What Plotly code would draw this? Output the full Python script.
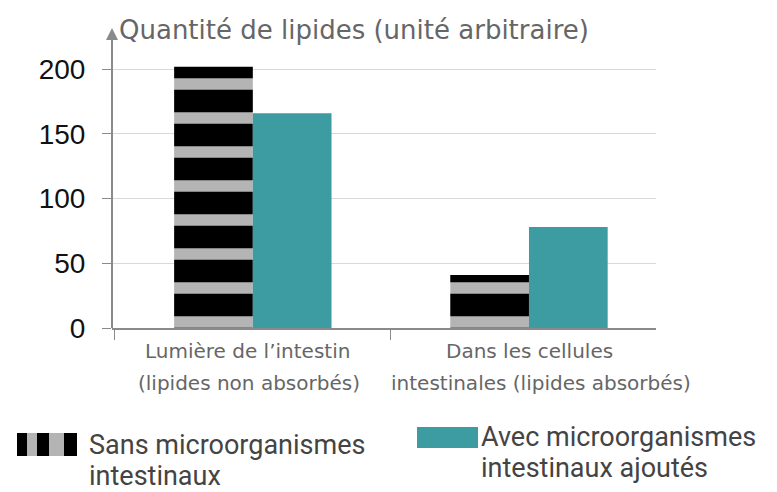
import plotly.graph_objects as go

cat_line1 = ["Lumière de l’intestin", "Dans les cellules"]
cat_line2 = ["(lipides non absorbés)", "intestinales (lipides absorbés)"]
categories = [a + " " + b for a, b in zip(cat_line1, cat_line2)]
sans_micro = [202, 41]
avec_micro = [166, 78]
y_ticks = [0, 50, 100, 150, 200]
legend_sans = ["Sans microorganismes", "intestinaux"]
legend_avec = ["Avec microorganismes", "intestinaux ajoutés"]
y_title = "Quantité de lipides (unité arbitraire)"

W, H = 777, 492
L, R, T, B = 112, 121, 33, 164
PW, PH = W - L - R, H - T - B
Y_TOP = 200 * PH / (328 - 69.3)  # keep 200 at ~69px

def px(x):
    return (x - L) / PW

def py(y):
    return 1 - (y - T) / PH

BLACK = "#000000"
GRAY = "#b4b4b4"
TEAL = "#3c9ca2"
AX = "#8a8a8a"

fig = go.Figure()
fig.add_trace(go.Bar(
    x=categories, y=sans_micro, name="Sans microorganismes intestinaux",
    marker=dict(color=BLACK, line=dict(width=0),
                pattern=dict(shape="-", fgcolor=GRAY, bgcolor=BLACK,
                             size=34, solidity=0.34, fgopacity=1)),
    showlegend=False))
fig.add_trace(go.Bar(
    x=categories, y=avec_micro, name="Avec microorganismes intestinaux ajoutés",
    marker=dict(color=TEAL, line=dict(width=0)), showlegend=False))

fig.update_layout(
    width=W, height=H, margin=dict(l=L, r=R, t=T, b=B),
    paper_bgcolor="white", plot_bgcolor="white",
    barmode="group", bargap=0.43, bargroupgap=0,
    font=dict(family="Noto Sans", color="#555555"),
)
fig.update_xaxes(
    range=[-0.51, 1.46], showline=True, linecolor=AX, linewidth=2,
    ticks="outside", tickson="boundaries", ticklen=10, tickcolor=AX, tickwidth=1,
    showticklabels=False, showgrid=False,
)
fig.update_yaxes(
    range=[0, Y_TOP], tickvals=y_ticks, showline=False,
    ticks="outside", ticklen=9, tickcolor=AX, tickwidth=1, ticklabelstandoff=11,
    tickfont=dict(family="Liberation Sans", size=28, color="#111111"),
    showgrid=True, gridcolor="#d9d9d9", gridwidth=1, zeroline=False,
)

# y axis line with arrow
fig.add_shape(type="line", xref="paper", yref="paper", x0=0, x1=0,
              y0=0, y1=py(40), line=dict(color=AX, width=2))
fig.add_annotation(xref="paper", yref="paper", x=0, y=py(28), ax=0, ay=13,
                   showarrow=True, arrowhead=2, arrowsize=1.2, arrowwidth=2,
                   arrowcolor=AX, text="")
fig.add_annotation(xref="paper", yref="paper", x=px(117), y=py(30),
                   xanchor="left", yanchor="middle", showarrow=False,
                   text=y_title, font=dict(family="DejaVu Sans", size=26, color="#666666"))

# category labels (two lines each)
shifts1 = [-5, 1]
shifts2 = [-4, 12]
for i, c in enumerate(categories):
    fig.add_annotation(xref="x", yref="paper", x=c, y=py(351), xshift=shifts1[i],
                       xanchor="center", yanchor="middle", showarrow=False,
                       text=cat_line1[i], font=dict(family="DejaVu Sans", size=20, color="#666666"))
    fig.add_annotation(xref="x", yref="paper", x=c, y=py(383), xshift=shifts2[i],
                       xanchor="center", yanchor="middle", showarrow=False,
                       text=cat_line2[i], font=dict(family="DejaVu Sans", size=20, color="#666666"))

# manual legend
stripes = [(17, 27, BLACK), (27, 37, GRAY), (37, 49, BLACK), (49, 64, GRAY), (64, 77, BLACK)]
for x0, x1, c in stripes:
    fig.add_shape(type="rect", xref="paper", yref="paper",
                  x0=px(x0), x1=px(x1), y0=py(456), y1=py(433),
                  fillcolor=c, line=dict(width=0))
fig.add_shape(type="rect", xref="paper", yref="paper",
              x0=px(417), x1=px(478), y0=py(448), y1=py(427),
              fillcolor=TEAL, line=dict(width=0))
leg_font = dict(family="Roboto", size=27, color="#444444")
for txt, xx, yy in [(legend_sans[0], 87, 445), (legend_sans[1], 87, 476),
                    (legend_avec[0], 479, 437), (legend_avec[1], 479, 468)]:
    fig.add_annotation(xref="paper", yref="paper", x=px(xx), y=py(yy),
                       xanchor="left", yanchor="middle", showarrow=False,
                       text=txt, font=leg_font)

fig.write_html("out.html", config={"displayModeBar": False},
               post_script="document.body.style.margin='0';")
